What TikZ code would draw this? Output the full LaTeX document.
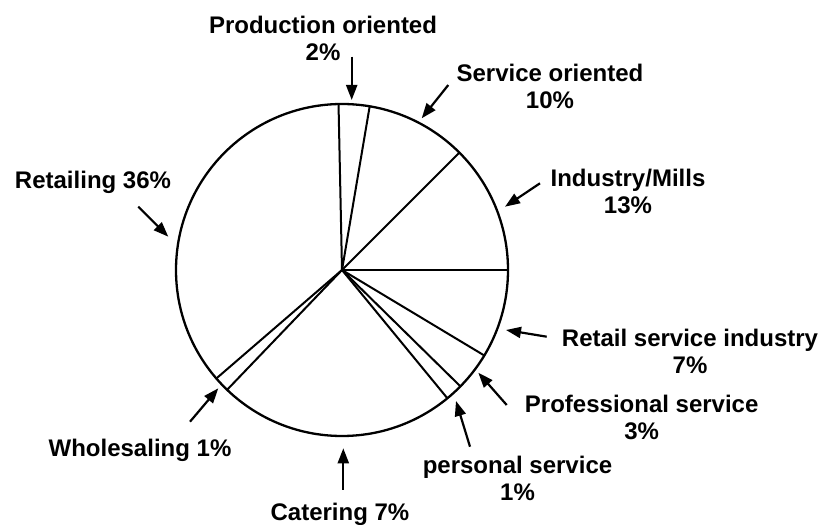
\documentclass[tikz,border=0pt]{standalone}
\usepackage{fontspec}
\setmainfont{Liberation Sans}
\usetikzlibrary{arrows.meta}

\begin{document}
\begin{tikzpicture}[x=1pt, y=1pt,
  lbl/.style={font=\bfseries\fontsize{24}{27}\selectfont, inner sep=0pt, anchor=base, align=center},
  ptr/.style={line width=2.2pt, -{Triangle[length=15pt, width=11pt]}}]

\useasboundingbox (0,0) rectangle (825,525);

% pie
\coordinate (c) at (342,255);
\draw [line width=2.3pt] (c) circle (166);
\foreach \a in {91.2, 80.4, 45, 0, -31, -44.5, -50.6, -133.8, -139.2}
  \draw [line width=2pt] (c) -- ++(\a:166);

% labels (base = last line)
\node[lbl] (prod) at (323,464.7) {Production oriented\\2\%};
\node[lbl] (serv) at (550,416.7) {Service oriented\\10\%};
\node[lbl] (ind) at (628,311.7) {Industry/Mills\\13\%};
\node[lbl] (rsi) at (690,151) {Retail service industry\\7\%};
\node[lbl] (prof) at (641.7,85.7) {Professional service\\3\%};
\node[lbl] (pers) at (517.5,24) {personal service\\1\%};
\node[lbl] (cat) at (340,5) {Catering 7\%};
\node[lbl] (whole) at (140,68.3) {Wholesaling 1\%};
\node[lbl] (ret) at (93,336.7) {Retailing 36\%};

% arrows
\coordinate (prod-s) at (351.7,468.3);
\coordinate (prod-t) at (351.7,425);
\coordinate (serv-s) at (448.3,440);
\coordinate (serv-t) at (421.7,406.7);
\coordinate (ind-s) at (540,341.7);
\coordinate (ind-t) at (505,318.3);
\coordinate (rsi-s) at (546.7,188.3);
\coordinate (rsi-t) at (506,195);
\coordinate (prof-s) at (506.7,120);
\coordinate (prof-t) at (478.3,152.3);
\coordinate (pers-s) at (470,78.3);
\coordinate (pers-t) at (456,124);
\coordinate (cat-s) at (343.3,35);
\coordinate (cat-t) at (343.3,76.7);
\coordinate (whole-s) at (190,103.3);
\coordinate (whole-t) at (218.3,136.7);
\coordinate (ret-s) at (138.3,318.3);
\coordinate (ret-t) at (168.3,288.3);

\draw[ptr] (prod-s) -- (prod-t);
\draw[ptr] (serv-s) -- (serv-t);
\draw[ptr] (ind-s) -- (ind-t);
\draw[ptr] (rsi-s) -- (rsi-t);
\draw[ptr] (prof-s) -- (prof-t);
\draw[ptr] (pers-s) -- (pers-t);
\draw[ptr] (cat-s) -- (cat-t);
\draw[ptr] (whole-s) -- (whole-t);
\draw[ptr] (ret-s) -- (ret-t);

\end{tikzpicture}
\end{document}
